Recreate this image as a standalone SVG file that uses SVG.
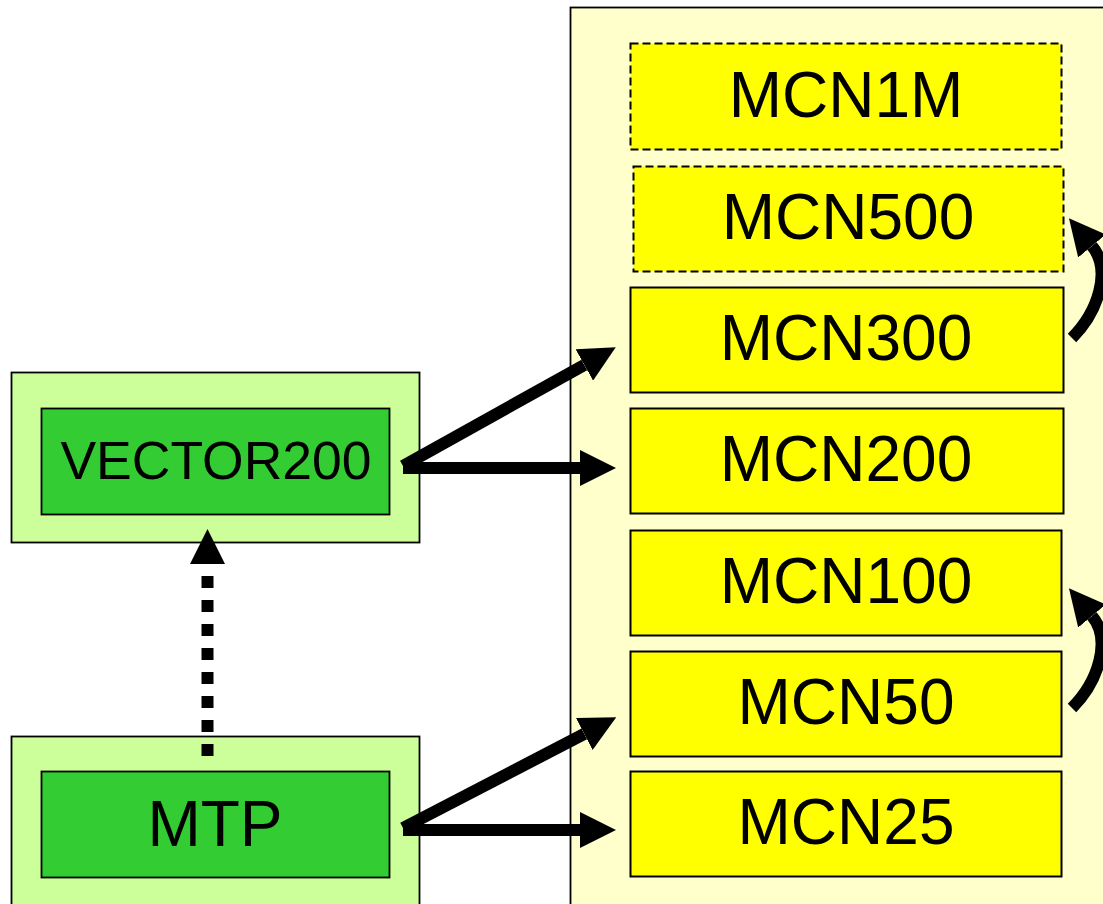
<svg xmlns="http://www.w3.org/2000/svg" width="1103" height="904" viewBox="0 0 1103 904">
<defs>
<style>
.lbl{font-family:"Liberation Sans",Arial,sans-serif;fill:#000;text-anchor:middle}
.mcn{fill:#FFFF00;stroke:#000;stroke-width:2}
.dash{stroke-dasharray:8,4}
.outer{fill:#CCFF99;stroke:#000;stroke-width:1.8}
.inner{fill:#33CC33;stroke:#000;stroke-width:1.8}
.arr{fill:none;stroke:#000;stroke-width:12;marker-end:url(#ah)}
</style>
<marker id="ah" markerUnits="userSpaceOnUse" viewBox="0 0 36 36" refX="0" refY="18" markerWidth="36" markerHeight="36" orient="auto">
<path d="M0,0 L36,18 L0,36 Z" fill="#000"/>
</marker>
</defs>
<rect x="0" y="0" width="1103" height="904" fill="#FFFFFF"/>
<g id="container">
<rect x="570.5" y="7.5" width="560" height="920" fill="#FFFFCC" stroke="#000" stroke-width="1.8"/>
</g>
<g id="MCN1M"><rect class="mcn dash" x="630.5" y="43.5" width="431" height="106"/><text class="lbl" x="846" y="117" font-size="64">MCN1M</text></g>
<g id="MCN500"><rect class="mcn dash" x="633.5" y="166.5" width="430" height="105"/><text class="lbl" x="848" y="239" font-size="64">MCN500</text></g>
<g id="MCN300"><rect class="mcn" x="630.5" y="287.5" width="433" height="105"/><text class="lbl" x="846" y="360" font-size="64">MCN300</text></g>
<g id="MCN200"><rect class="mcn" x="630.5" y="408.5" width="433" height="105"/><text class="lbl" x="846" y="481" font-size="64">MCN200</text></g>
<g id="MCN100"><rect class="mcn" x="630.5" y="530.5" width="431" height="105"/><text class="lbl" x="846" y="603" font-size="64">MCN100</text></g>
<g id="MCN50"><rect class="mcn" x="630.5" y="651.5" width="431" height="105"/><text class="lbl" x="846" y="724" font-size="64">MCN50</text></g>
<g id="MCN25"><rect class="mcn" x="630.5" y="771.5" width="431" height="105"/><text class="lbl" x="846" y="844" font-size="64">MCN25</text></g>
<g id="VECTOR200">
<rect class="outer" x="11.5" y="372.5" width="408" height="170"/>
<rect class="inner" x="41.5" y="408.5" width="348" height="106"/>
<text class="lbl" x="216" y="479" font-size="53.5">VECTOR200</text>
</g>
<g id="MTP">
<rect class="outer" x="11.5" y="736.5" width="408" height="190"/>
<rect class="inner" x="41.5" y="771.5" width="348" height="106"/>
<text class="lbl" x="215" y="846" font-size="64">MTP</text>
</g>
<g id="connectors">
<path class="arr" d="M403,468 L580,468"/>
<path class="arr" d="M403,466 L584.3,364.9"/>
<path class="arr" d="M403,830 L580,830"/>
<path class="arr" d="M403,828 L584.3,733.9"/>
<path class="arr" d="M1072,338 C1098,312 1112,270 1092,246" stroke-width="11"/>
<path class="arr" d="M1072,708 C1098,682 1112,640 1092,616" stroke-width="11"/>
<line x1="207.5" y1="756" x2="207.5" y2="564" stroke="#000" stroke-width="12" stroke-dasharray="12,12"/>
<path d="M207.5,529 L225,564 L190,564 Z" fill="#000"/>
</g>
</svg>
